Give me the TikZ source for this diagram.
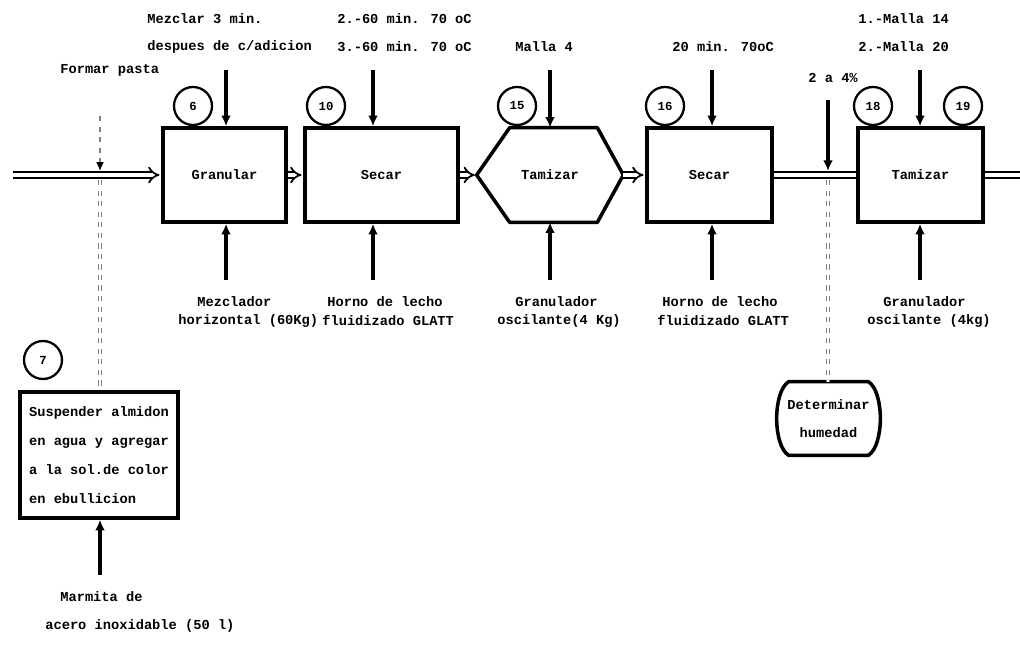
\documentclass[tikz,border=0pt]{standalone}
\usepackage{fontspec}
\setmainfont{Liberation Mono}
\usetikzlibrary{arrows.meta,calc}
\begin{document}
\begin{tikzpicture}[x=0.02cm,y=-0.02cm,
  txt/.style={font=\bfseries\fontsize{7.8}{9}\selectfont, inner sep=0pt},
  lbl/.style={txt, anchor=west},
  proc/.style={draw, line width=2pt, minimum height=1.88cm, inner sep=0pt, font=\bfseries\fontsize{7.8}{9}\selectfont},
  num/.style={draw, circle, line width=1.3pt, minimum size=0.76cm, inner sep=0pt, font=\bfseries\fontsize{7}{8}\selectfont},
  feed/.style={line width=2.2pt, -{Latex[length=6pt,width=5.5pt]}},
  flow/.style={double, double distance=2.2pt, line width=1pt, -{Implies}, shorten >=1pt},
  flowplain/.style={double, double distance=2.2pt, line width=1pt},
  aux/.style={draw=gray, dashed, line width=0.9pt}
]
\useasboundingbox (0,0) rectangle (1020,648);

% process boxes
\node[proc, minimum width=2.46cm] (gran) at (224.5,175) {Granular};
\node[proc, minimum width=3.06cm] (sec1) at (381.5,175) {Secar};
\node[minimum width=2.92cm, minimum height=1.88cm, inner sep=0pt, font=\bfseries\fontsize{7.8}{9}\selectfont] (tam1) at (550,175) {Tamizar};
\draw[line width=2pt, line join=round] (tam1.west) -- ($(tam1.north west)+(33,0)$) -- ($(tam1.north east)+(-26,0)$) -- (tam1.east) -- ($(tam1.south east)+(-26,0)$) -- ($(tam1.south west)+(33,0)$) -- cycle;
\node[proc, minimum width=2.5cm] (sec2) at (709.5,175) {Secar};
\node[proc, minimum width=2.5cm] (tam2) at (920.5,175) {Tamizar};
\node[proc, minimum width=3.16cm, minimum height=2.52cm, align=left, font=\bfseries\fontsize{7.8}{16.4}\selectfont] (susp) at (99,455) {Suspender almidon\\en agua y agregar\\a la sol.de color\\en ebullicion};
\node[minimum width=2.06cm, minimum height=1.46cm, inner sep=0pt, align=center, font=\bfseries\fontsize{7.8}{15.5}\selectfont] (det) at (828.5,418.5) {Determinar\\humedad};
\draw[line width=2pt] ($(det.north west)+(12,0)$) -- ($(det.north east)+(-12,0)$) .. controls ($(det.north east)+(4,10)$) and ($(det.south east)+(4,-10)$) .. ($(det.south east)+(-12,0)$) -- ($(det.south west)+(12,0)$) .. controls ($(det.south west)+(-4,-10)$) and ($(det.north west)+(-4,10)$) .. ($(det.north west)+(12,0)$) -- cycle;

% step numbers
\node[num] (c6) at (193,106) {6};
\node[num] (c10) at (326,106) {10};
\node[num] (c15) at (517,106) {15};
\node[num] (c16) at (665,106) {16};
\node[num] (c18) at (873,106) {18};
\node[num] (c19) at (963,106) {19};
\node[num] (c7) at (43,360) {7};

% main flow
\coordinate (in) at (13,175);
\coordinate (out) at (1020,175);
\draw[flow] (in) -- (gran.west);
\draw[flow] (gran.east) -- (sec1.west);
\draw[flow] (sec1.east) -- (tam1.west);
\draw[flow] (tam1.east) -- (sec2.west);
\draw[flowplain] (sec2.east) -- (tam2.west);
\draw[flowplain] (tam2.east) -- (out);

% top inputs
\coordinate (t1) at (226,70);
\coordinate (t2) at (373,70);
\coordinate (t3) at (550,70);
\coordinate (t4) at (712,70);
\coordinate (t5) at (920,70);
\draw[feed] (t1) -- (t1 |- gran.north);
\draw[feed] (t2) -- (t2 |- sec1.north);
\draw[feed] (t3) -- (t3 |- tam1.north);
\draw[feed] (t4) -- (t4 |- sec2.north);
\draw[feed] (t5) -- (t5 |- tam2.north);

% bottom equipment
\coordinate (b1) at (226,280);
\coordinate (b2) at (373,280);
\coordinate (b3) at (550,280);
\coordinate (b4) at (712,280);
\coordinate (b5) at (920,280);
\draw[feed] (b1) -- (b1 |- gran.south);
\draw[feed] (b2) -- (b2 |- sec1.south);
\draw[feed] (b3) -- (b3 |- tam1.south);
\draw[feed] (b4) -- (b4 |- sec2.south);
\draw[feed] (b5) -- (b5 |- tam2.south);
\coordinate (sb) at (100,575);
\draw[feed] (sb) -- (sb |- susp.south);

% moisture
\coordinate (h1) at (828,100);
\coordinate (h2) at (828,171);
\draw[feed] (h1) -- (h2);
\coordinate (dm) at (828,180);
\draw[aux, double] (dm) -- (dm |- det.north);

% paste branch
\coordinate (fpa) at (100,116);
\coordinate (fpb) at (100,171);
\draw[aux, -{Latex[black,length=5pt,width=4.5pt]}] (fpa) -- (fpb);
\coordinate (br) at (100,180);
\draw[aux, double] (br) -- (br |- susp.north);

% labels
\node[lbl] (l1a) at (147,19) {Mezclar 3 min.};
\node[lbl] (l1b) at (147,47) {despues de c/adicion};
\node[lbl] (l2a) at (337,19) {2.-60 min. 70 oC};
\node[lbl] (l2b) at (337,47) {3.-60 min. 70 oC};
\node[lbl] (l3) at (515,47) {Malla 4};
\node[lbl] (l4) at (672,47) {20 min. 70oC};
\node[lbl] (l5a) at (858,19) {1.-Malla 14};
\node[lbl] (l5b) at (858,47) {2.-Malla 20};
\node[lbl] (l6) at (808,78) {2 a 4\%};
\node[lbl] (fp) at (60,70) {Formar pasta};

\node[lbl] (e1a) at (197,302) {Mezclador};
\node[lbl] (e1b) at (178,321) {horizontal (60Kg)};
\node[lbl] (e2a) at (327,302) {Horno de lecho};
\node[lbl] (e2b) at (322,321) {fluidizado GLATT};
\node[lbl] (e3a) at (515,302) {Granulador};
\node[lbl] (e3b) at (497,321) {oscilante(4 Kg)};
\node[lbl] (e4a) at (662,302) {Horno de lecho};
\node[lbl] (e4b) at (657,321) {fluidizado GLATT};
\node[lbl] (e5a) at (883,302) {Granulador};
\node[lbl] (e5b) at (867,321) {oscilante (4kg)};
\node[lbl] (e6a) at (60,597) {Marmita de};
\node[lbl] (e6b) at (45,626) {acero inoxidable (50 l)};
\end{tikzpicture}
\end{document}
